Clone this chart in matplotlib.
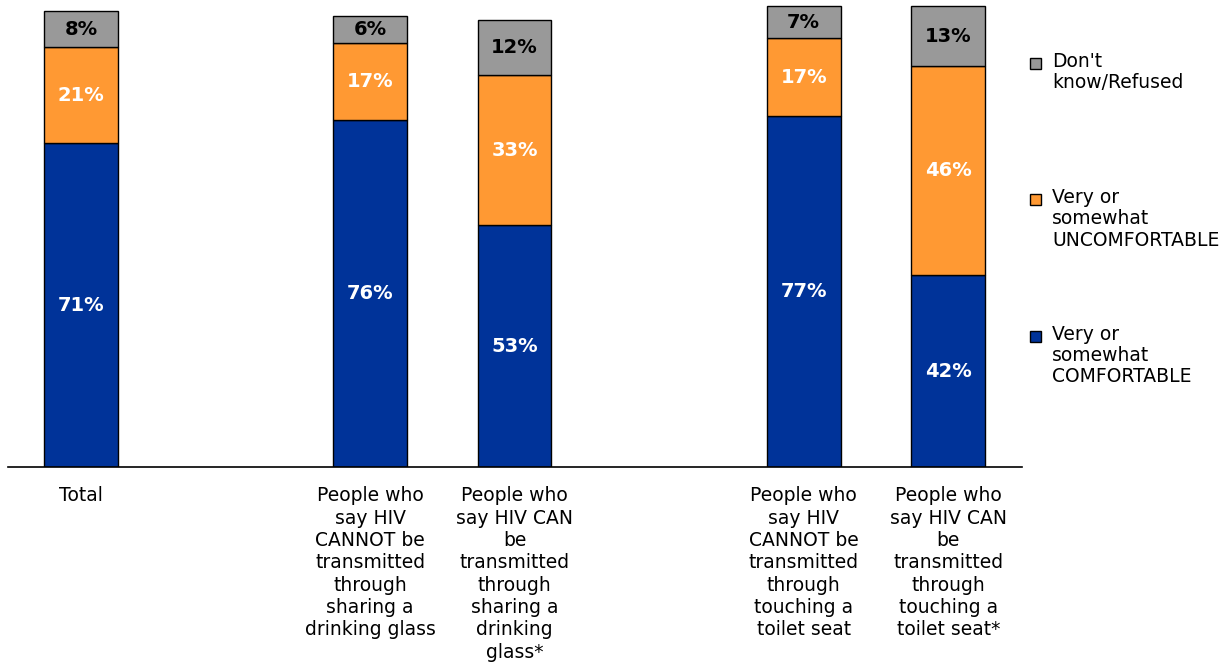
import matplotlib
matplotlib.use("Agg")
import matplotlib.pyplot as plt
from matplotlib.patches import Rectangle

categories = [
    "Total",
    "People who\nsay HIV\nCANNOT be\ntransmitted\nthrough\nsharing a\ndrinking glass",
    "People who\nsay HIV CAN\nbe\ntransmitted\nthrough\nsharing a\ndrinking\nglass*",
    "People who\nsay HIV\nCANNOT be\ntransmitted\nthrough\ntouching a\ntoilet seat",
    "People who\nsay HIV CAN\nbe\ntransmitted\nthrough\ntouching a\ntoilet seat*",
]
positions = [0, 2, 3, 5, 6]
comfortable = [71, 76, 53, 77, 42]
uncomfortable = [21, 17, 33, 17, 46]
dont_know = [8, 6, 12, 7, 13]
series_names = ["Very or\nsomewhat\nCOMFORTABLE", "Very or\nsomewhat\nUNCOMFORTABLE", "Don't\nknow/Refused"]
colors = ["#003399", "#FF9933", "#999999"]
label_colors = ["white", "white", "black"]

W, H = 1227, 664
fig = plt.figure(figsize=(W / 100, H / 100), dpi=100)
ax = fig.add_axes([8 / W, (H - 467) / H, (1022 - 8) / W, 467 / H])

bottoms = [0] * len(positions)
for vals, col, lc in zip([comfortable, uncomfortable, dont_know], colors, label_colors):
    bars = ax.bar(positions, vals, width=0.51, bottom=bottoms, color=col,
                  edgecolor="black", linewidth=1.0, zorder=2)
    for b, v in zip(bars, vals):
        ax.text(b.get_x() + b.get_width() / 2, b.get_y() + b.get_height() / 2,
                f"{v}%", ha="center", va="center", color=lc,
                fontsize=14, fontweight="bold", zorder=3)
    bottoms = [a + v for a, v in zip(bottoms, vals)]

ax.set_xlim(-0.505, 6.51)
ax.set_ylim(0, 102.4)
for s in ["top", "right", "left"]:
    ax.spines[s].set_visible(False)
ax.spines["bottom"].set_linewidth(1.2)
ax.set_yticks([])
ax.set_xticks(positions)
ax.set_xticklabels(categories, fontsize=13.5, linespacing=1.22)
ax.tick_params(axis="x", length=0, pad=14)

# legend (manual, right side)
legend_tops = [52, 188, 325]
for name, col, top in zip(reversed(series_names), reversed(colors), legend_tops):
    fig.patches.append(Rectangle((1030 / W, 1 - (top + 17) / H), 11 / W, 11 / H,
                                 transform=fig.transFigure, facecolor=col,
                                 edgecolor="black", linewidth=1.0))
    fig.text(1052 / W, 1 - top / H, name, ha="left", va="top", fontsize=13.5,
             linespacing=1.15)

fig.savefig("out.png", dpi=100)
